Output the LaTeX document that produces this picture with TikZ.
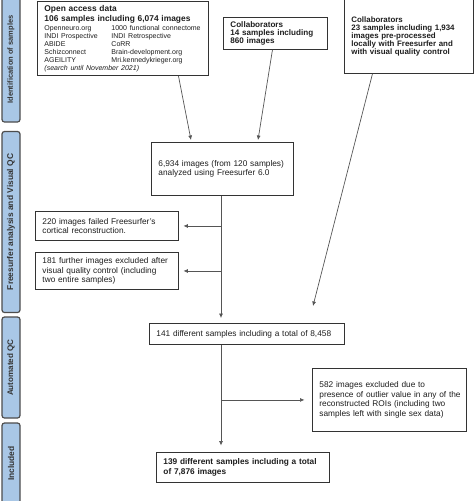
\documentclass[tikz,border=0pt]{standalone}
\usepackage{fontspec}
\setmainfont{Liberation Sans}
\usetikzlibrary{arrows.meta}
\definecolor{barfill}{HTML}{A9C7E6}
\definecolor{barline}{HTML}{4D4D4D}
\definecolor{boxline}{HTML}{333333}
\definecolor{arrline}{HTML}{555555}
\definecolor{txt}{HTML}{1E1E1E}
\begin{document}
\begin{tikzpicture}[x=1pt,y=-1pt,
  box/.style={draw=boxline, line width=0.9pt, fill=white, anchor=north west,
    inner xsep=7pt, inner ysep=0pt, align=left, text=txt,
    font=\fontsize{8.3}{9.5}\selectfont},
  bar/.style={draw=barline, fill=barfill, line width=1.2pt, rounded corners=2.5pt,
    rotate=90, minimum height=18pt, inner sep=0pt, text=txt!90},
  barfont/.style={font=\bfseries\fontsize{#1}{9}\selectfont},
  conn/.style={draw=arrline, line width=0.7pt, -{Latex[length=4.5pt,width=4pt]}}
]
\useasboundingbox (0,0) rectangle (474,501);
% phase bars
\node[bar, barfont=7.5, minimum width=125pt] (p1) at (11,59.5) {Identification of samples};
\node[bar, barfont=8.4, minimum width=181pt] (p2) at (11,222) {Freesurfer analysis and Visual QC};
\node[bar, barfont=8.1, minimum width=101pt] (p3) at (11,367.5) {Automated QC};
\node[bar, barfont=8.4, minimum width=81pt] (p4) at (11,463.5) {Included};
% boxes
\node[box, minimum width=171pt, minimum height=74pt, text width=157pt] (b1) at (37,1)
 {{\bfseries\fontsize{8.4}{10}\selectfont Open access data\\106 samples including 6,074 images\par}
  \vspace{1pt}
  {\fontsize{7}{8}\selectfont
  \makebox[67pt][l]{Openneuro.org}1000 functional connectome\\
  \makebox[67pt][l]{INDI Prospective}INDI Retrospective\\
  \makebox[67pt][l]{ABIDE}CoRR\\
  \makebox[67pt][l]{Schizconnect}Brain-development.org\\
  \makebox[67pt][l]{AGEILITY}Mri.kennedykrieger.org\\
  \itshape (search until November 2021)\par}};
\node[box, minimum width=104pt, minimum height=32pt, text width=90pt,
  font=\bfseries\fontsize{8.1}{8.4}\selectfont] (b2) at (223,17)
 {Collaborators\\14 samples including\\860 images};
\node[box, minimum width=129pt, minimum height=74pt, text width=115pt,
  font=\bfseries\fontsize{7.9}{8.2}\selectfont] (b3) at (344,-1)
 {Collaborators\\23 samples including 1,934\\images pre-processed\\locally with Freesurfer and\\with visual quality control\\[4pt]};
\node[box, minimum width=142pt, minimum height=53pt, text width=128pt] (b4) at (151,142)
 {6,934 images (from 120 samples)\\analyzed using Freesurfer 6.0};
\node[box, minimum width=143pt, minimum height=29pt, text width=129pt] (b5) at (35,211)
 {220 images failed Freesurfer's\\cortical reconstruction.};
\node[box, minimum width=143pt, minimum height=37pt, text width=129pt] (b6) at (35,252)
 {181 further images excluded after\\visual quality control (including\\two entire samples)};
\node[box, minimum width=195pt, minimum height=21pt, text width=181pt] (b7) at (149,323)
 {141 different samples including a total of 8,458};
\node[box, minimum width=154pt, minimum height=63pt, text width=140pt] (b8) at (312,368)
 {\mbox{582 images excluded due to}\\\mbox{presence of outlier value in any of the}\\\mbox{reconstructed ROIs (including two}\\\mbox{samples left with single sex data)}};
\node[box, minimum width=173pt, minimum height=30pt, text width=159pt,
  font=\bfseries\fontsize{8.3}{9.7}\selectfont] (b9) at (156,452)
 {139 different samples including a total\\of 7,876 images};
% connectors
\coordinate (t1) at (191,140);
\coordinate (t2) at (258,140);
\coordinate (t3) at (313,306);
\coordinate (sp) at (221,0);
\draw[conn] ([xshift=55.5pt]b1.south) -- (t1);
\draw[conn] ([xshift=-3pt]b2.south) -- (t2);
\draw[conn] ([xshift=-36.5pt]b3.south) -- (t3);
\draw[conn, shorten >=5pt] (sp |- b4.south) -- (sp |- b7.north);
\draw[conn, shorten >=4.5pt] (sp |- b5.east) -- (b5.east);
\draw[conn, shorten >=4.5pt] (sp |- b6.east) -- (b6.east);
\draw[conn, shorten >=6.5pt] (sp |- b7.south) -- (sp |- b9.north);
\draw[conn, shorten >=7.5pt] (sp |- b8.west) -- (b8.west);
\end{tikzpicture}
\end{document}
